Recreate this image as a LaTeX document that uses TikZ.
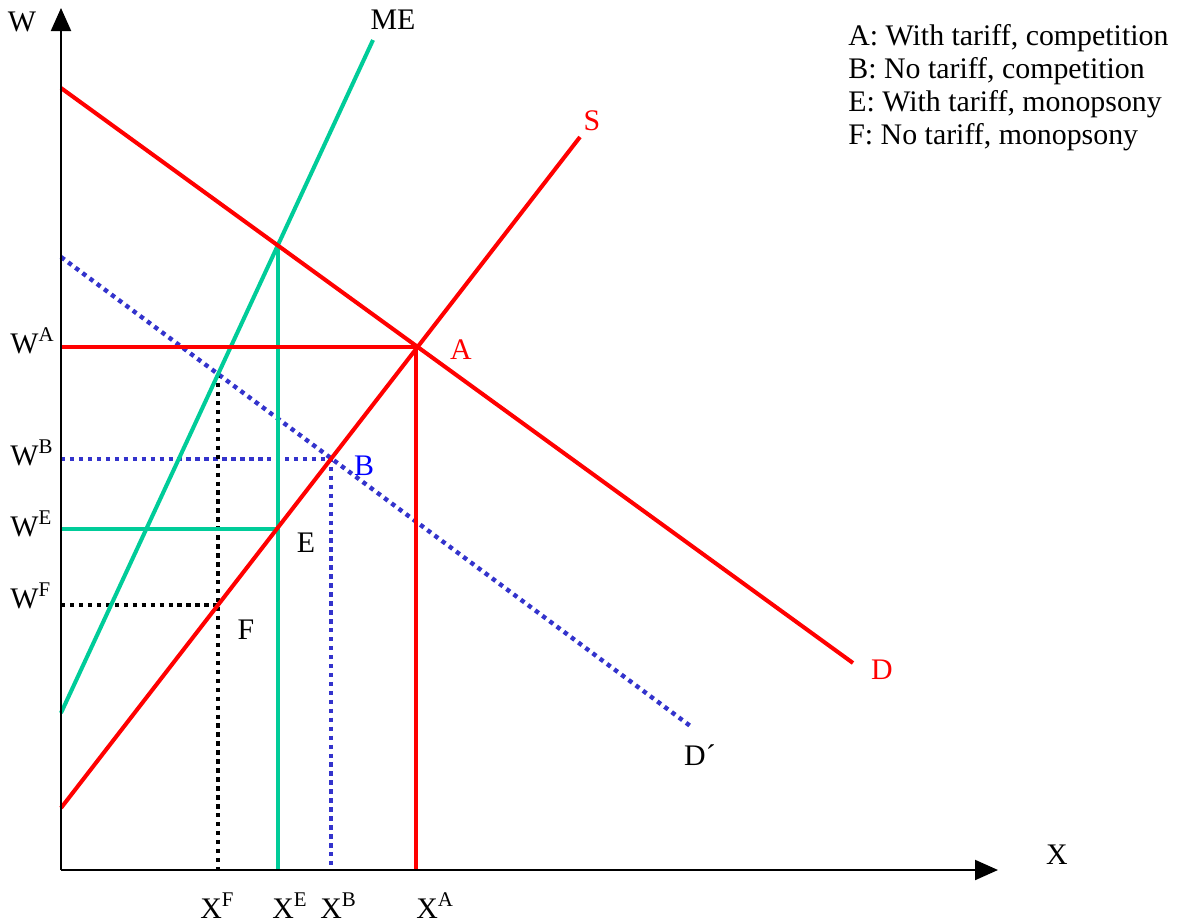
\documentclass[tikz,border=0pt]{standalone}
\usepackage{fontspec}
\setmainfont{Liberation Serif}
\usetikzlibrary{arrows.meta}
\definecolor{curvered}{RGB}{255,0,0}
\definecolor{megreen}{RGB}{0,204,153}
\definecolor{dotblue}{RGB}{51,51,204}
\definecolor{labblue}{RGB}{0,0,255}
\tikzset{
  axisline/.style={line width=1.2pt, -{Triangle[length=0.46cm, width=0.4cm]}},
  redline/.style={curvered, line width=2.3pt},
  greenline/.style={megreen, line width=2.3pt},
  bluedots/.style={dotblue, line width=2.5pt, dash pattern=on 2.5pt off 2.6pt},
  blackdots/.style={black, line width=2.5pt, dash pattern=on 2.5pt off 2.6pt},
  lbl/.style={font=\fontsize{17}{19}\selectfont, inner sep=0pt}
}
\begin{document}
\begin{tikzpicture}[x=0.02cm, y=-0.02cm]
  \useasboundingbox (0,0) rectangle (1178,924);
  % points of the curves
  \coordinate (O)   at (61,870);
  \coordinate (Ytop) at (61,8);
  \coordinate (Xend) at (998,870);
  \coordinate (S0)  at (61,808);
  \coordinate (S1)  at (580,137);
  \coordinate (M0)  at (61,713);
  \coordinate (M1)  at (373,40);
  \coordinate (D0)  at (61,88);
  \coordinate (D1)  at (853,663);
  \coordinate (Dp0) at (61,257);
  \coordinate (Dp1) at (693,728);
  \coordinate (ptA) at (416,347);
  \coordinate (ptB) at (331,459);
  \coordinate (ptE) at (278,529);
  \coordinate (ptF) at (218,605);
  \coordinate (ptQ) at (278,245);
  \coordinate (ptG) at (218,374);
  \coordinate (wA) at (61,347);
  \coordinate (wB) at (61,459);
  \coordinate (wE) at (61,529);
  \coordinate (wF) at (61,605);
  \coordinate (xA) at (416,870);
  \coordinate (xB) at (331,870);
  \coordinate (xE) at (278,870);
  \coordinate (xF) at (218,870);
  % dotted guides
  \draw[bluedots] (Dp0) -- (Dp1);
  \draw[bluedots] (wB) -- (ptB) -- (xB);
  \draw[blackdots] (wF) -- (ptF);
  \draw[blackdots] (ptG) -- (xF);
  % curves
  \draw[greenline] (M0) -- (M1);
  \draw[greenline] (ptQ) -- (xE);
  \draw[greenline] (wE) -- (ptE);
  \draw[redline] (D0) -- (D1);
  \draw[redline] (S0) -- (S1);
  \draw[redline] (wA) -- (ptA) -- (xA);
  % axes
  \draw[axisline] (O) -- (Ytop);
  \draw[axisline] (O) -- (Xend);
  % labels
  \node[lbl] (labW)  at (22,22)   {W};
  \node[lbl] (labX)  at (1057,855) {X};
  \node[lbl] (labME) at (393,20)  {ME};
  \node[lbl, text=curvered] (labS) at (592,121) {S};
  \node[lbl, text=curvered] (labD) at (882,670) {D};
  \node[lbl] (labDp) at (700,755) {D´};
  \node[lbl, text=curvered] (labA) at (461,350) {A};
  \node[lbl, text=labblue]  (labB) at (364,466) {B};
  \node[lbl] (labE)  at (306,543) {E};
  \node[lbl] (labF)  at (246,630) {F};
  \node[lbl, anchor=base west] (labWA) at (10,353) {W\textsuperscript{A}};
  \node[lbl, anchor=base west] (labWB) at (10,465) {W\textsuperscript{B}};
  \node[lbl, anchor=base west] (labWE) at (10,536) {W\textsuperscript{E}};
  \node[lbl, anchor=base west] (labWF) at (10,608) {W\textsuperscript{F}};
  \node[lbl, anchor=base west] (labXF) at (200,918) {X\textsuperscript{F}};
  \node[lbl, anchor=base west] (labXE) at (272,918) {X\textsuperscript{E}};
  \node[lbl, anchor=base west] (labXB) at (320,918) {X\textsuperscript{B}};
  \node[lbl, anchor=base west] (labXA) at (416,918) {X\textsuperscript{A}};
  % legend
  \node[lbl, anchor=base west] (legA) at (848,45)  {A: With tariff, competition};
  \node[lbl, anchor=base west] (legB) at (848,78)  {B: No tariff, competition};
  \node[lbl, anchor=base west] (legE) at (848,111) {E: With tariff, monopsony};
  \node[lbl, anchor=base west] (legF) at (848,144) {F: No tariff, monopsony};
\end{tikzpicture}
\end{document}
